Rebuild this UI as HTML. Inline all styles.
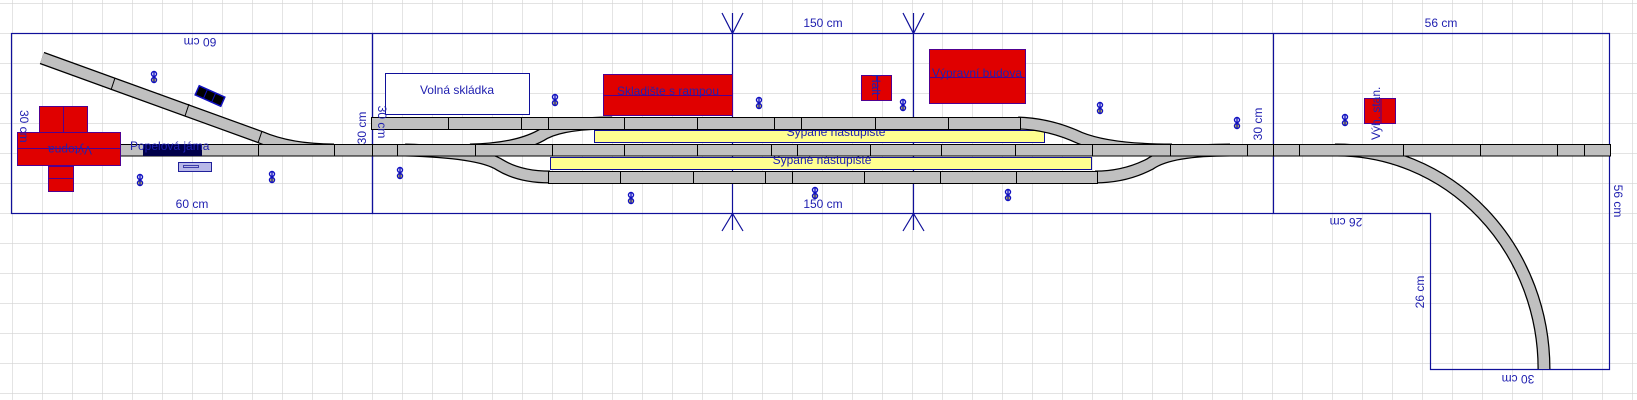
<!DOCTYPE html>
<html><head><meta charset="utf-8"><style>
html,body{margin:0;padding:0;background:#fff;}
svg{display:block;font-family:"Liberation Sans",sans-serif;}
</style></head><body>
<svg width="1637" height="400" viewBox="0 0 1637 400" xmlns="http://www.w3.org/2000/svg">
<defs>
<pattern id="g" x="12" y="3" width="30" height="30" patternUnits="userSpaceOnUse">
<path d="M0 0H30M0 0V30" stroke="#d2d2d2" stroke-width="1.2" fill="none"/>
</pattern>
<g id="s"><circle cx="0" cy="-3" r="2.5"/><circle cx="0" cy="3" r="2.5" fill="#e8e040"/><path d="M0 -6V6"/></g>
</defs>
<rect width="1637" height="400" fill="#fff"/>
<rect width="1637" height="400" fill="url(#g)"/>

<!-- boards -->
<g fill="none" stroke="#10109a" stroke-width="1.2">
<rect x="11.5" y="33.5" width="361" height="180"/>
<rect x="372.5" y="33.5" width="901" height="180"/>
<path d="M1273.5 33.5H1609.5V369.5H1430.5V213.5H1273.5"/>
<path d="M732.5 13V230M722 13L732.5 33.5L743 13M722 231L732.5 213.5L743 231"/>
<path d="M913.5 13V230M903 13L913.5 33.5L924 13M903 231L913.5 213.5L924 231"/>
</g>

<!-- platforms -->
<rect x="594.5" y="130.5" width="450" height="12" fill="#ffff90" stroke="#10109a"/>
<rect x="550.5" y="157.5" width="541" height="12" fill="#ffff90" stroke="#10109a"/>
<g fill="#2020b0" font-size="12" text-anchor="middle">
<text x="836" y="136">Sypané nástupiště</text>
<text x="822" y="164">Sypané nástupiště</text>
</g>

<!-- curved tracks (outline then fill) -->
<g fill="none" stroke-linecap="butt">
<g stroke="#000" stroke-width="13">
<path d="M42 58L260 137Q290 150 334 150"/>
<path d="M405 150Q480 152 500 165Q520 177 550 177"/>
<path d="M470 150Q520 149 545 133Q565 123 612 123"/>
<path d="M1018 123Q1050 124 1080 138Q1110 150 1172 150"/>
<path d="M1095 177Q1125 177 1150 164Q1170 150 1230 150"/>
<path d="M1335 150A207 219 0 0 1 1544 369"/>
</g>
<g stroke="#c0c0c0" stroke-width="10.5">
<path d="M42 58L260 137Q290 150 334 150"/>
<path d="M405 150Q480 152 500 165Q520 177 550 177"/>
<path d="M470 150Q520 149 545 133Q565 123 612 123"/>
<path d="M1018 123Q1050 124 1080 138Q1110 150 1172 150"/>
<path d="M1095 177Q1125 177 1150 164Q1170 150 1230 150"/>
<path d="M1335 150A207 219 0 0 1 1544 369"/>
</g>
</g>

<!-- straight tracks -->
<g fill="#c0c0c0" stroke="#000" stroke-width="1">
<rect x="120.5" y="144.5" width="1490" height="11.5"/>
<rect x="371.5" y="117.5" width="649" height="12"/>
<rect x="548.5" y="171.5" width="549" height="12"/>
</g>
<g stroke="#000" stroke-width="1">
<path d="M258.5 144V156M334.5 144V156M372.5 144V156M397.5 144V156M475.5 144V156M552.5 144V156M624.5 144V156M697.5 144V156M771.5 144V156M797.5 144V156M870.5 144V156M941.5 144V156M1015.5 144V156M1092.5 144V156M1170.5 144V156M1247.5 144V156M1273.5 144V156M1299.5 144V156M1403.5 144V156M1480.5 144V156M1557.5 144V156M1584.5 144V156"/>
<path d="M448.5 117V130M521.5 117V130M548.5 117V130M624.5 117V130M697.5 117V130M774.5 117V130M801.5 117V130M875.5 117V130M948.5 117V130"/>
<path d="M620.5 171V184M693.5 171V184M765.5 171V184M792.5 171V184M864.5 171V184M940.5 171V184M1016.5 171V184"/>
<path d="M115 78L111 90M189 104L185 116M262 131L258 143"/>
</g>

<!-- Výtopna -->
<g fill="#e00000" stroke="#500090" stroke-width="1">
<rect x="39.5" y="106.5" width="48" height="26"/>
<rect x="17.5" y="132.5" width="103" height="33"/>
<rect x="48.5" y="166.5" width="25" height="25"/>
<path d="M63.5 106V132M17 148.5H121M48 178.5H74" fill="none"/>
</g>
<text x="70" y="146" fill="#2020b0" font-size="12" text-anchor="middle" transform="rotate(180 70 146)">Výtopna</text>

<!-- Popelová jáma -->
<rect x="143" y="144" width="59" height="12" fill="#00004a"/>
<text x="130" y="150" fill="#2020b0" font-size="12">Popelová jáma</text>
<rect x="178.5" y="162.5" width="33" height="9" fill="#b8b8e8" stroke="#20209a"/>
<rect x="183.5" y="165.5" width="15" height="2" fill="none" stroke="#20209a" stroke-width="0.8"/>
<g transform="rotate(24 210 96)">
<rect x="196" y="91" width="28" height="10" fill="#000" stroke="#1010c0" stroke-width="1.5"/>
<path d="M205 91V101M214 91V101" stroke="#1010c0"/>
</g>

<!-- Volná skládka -->
<rect x="385.5" y="73.5" width="144" height="41" fill="#fff" stroke="#10109a"/>
<text x="457" y="94" fill="#2020b0" font-size="12" text-anchor="middle">Volná skládka</text>

<!-- Skladiště -->
<rect x="603.5" y="74.5" width="129" height="41" fill="#e00000" stroke="#500090"/>
<path d="M603 95.5H732" stroke="#500090"/>
<text x="668" y="95" fill="#2020b0" font-size="12" text-anchor="middle">Skladište s rampou</text>

<!-- Halt -->
<rect x="861.5" y="75.5" width="30" height="25" fill="#e00000" stroke="#500090"/>
<path d="M877.5 75V100" stroke="#500090"/>
<text x="872" y="74" fill="#2020b0" font-size="12" transform="rotate(90 872 74)">Halt</text>

<!-- Výpravní budova -->
<rect x="929.5" y="49.5" width="96" height="54" fill="#e00000" stroke="#500090"/>
<path d="M929 77.5H1026" stroke="#500090"/>
<text x="977" y="77" fill="#2020b0" font-size="12" text-anchor="middle">Výpravní budova</text>

<!-- Výh. stan. -->
<rect x="1364.5" y="98.5" width="31" height="25" fill="#e00000" stroke="#500090"/>
<path d="M1381 98V123" stroke="#500090"/>
<text x="1380" y="140" fill="#2020b0" font-size="12" transform="rotate(-90 1380 140)">Výh. stan.</text>

<!-- dimension labels -->
<g fill="#2020b0" font-size="12" text-anchor="middle">
<text x="200" y="38" transform="rotate(180 200 38)">60 cm</text>
<text x="192" y="208">60 cm</text>
<text x="20" y="110" transform="rotate(90 20 110)" text-anchor="start">30 cm</text>
<text x="366" y="128" transform="rotate(-90 366 128)">30 cm</text>
<text x="378" y="122" transform="rotate(90 378 122)">30 cm</text>
<text x="823" y="27">150 cm</text>
<text x="823" y="208">150 cm</text>
<text x="1262" y="124" transform="rotate(-90 1262 124)">30 cm</text>
<text x="1441" y="27">56 cm</text>
<text x="1346" y="218" transform="rotate(180 1346 218)">26 cm</text>
<text x="1424" y="292" transform="rotate(-90 1424 292)">26 cm</text>
<text x="1518" y="375" transform="rotate(180 1518 375)">30 cm</text>
<text x="1614" y="201" transform="rotate(90 1614 201)">56 cm</text>
</g>

<!-- signals -->
<g fill="none" stroke="#1010c0" stroke-width="1.4">
<use href="#s" x="154" y="77"/><use href="#s" x="140" y="180"/><use href="#s" x="272" y="177"/>
<use href="#s" x="555" y="100"/><use href="#s" x="759" y="103"/><use href="#s" x="400" y="173"/>
<use href="#s" x="631" y="198"/><use href="#s" x="815" y="193"/><use href="#s" x="903" y="105"/>
<use href="#s" x="1100" y="108"/><use href="#s" x="1237" y="123"/><use href="#s" x="1008" y="195"/>
<use href="#s" x="1345" y="120"/>
</g>
</svg>
</body></html>
